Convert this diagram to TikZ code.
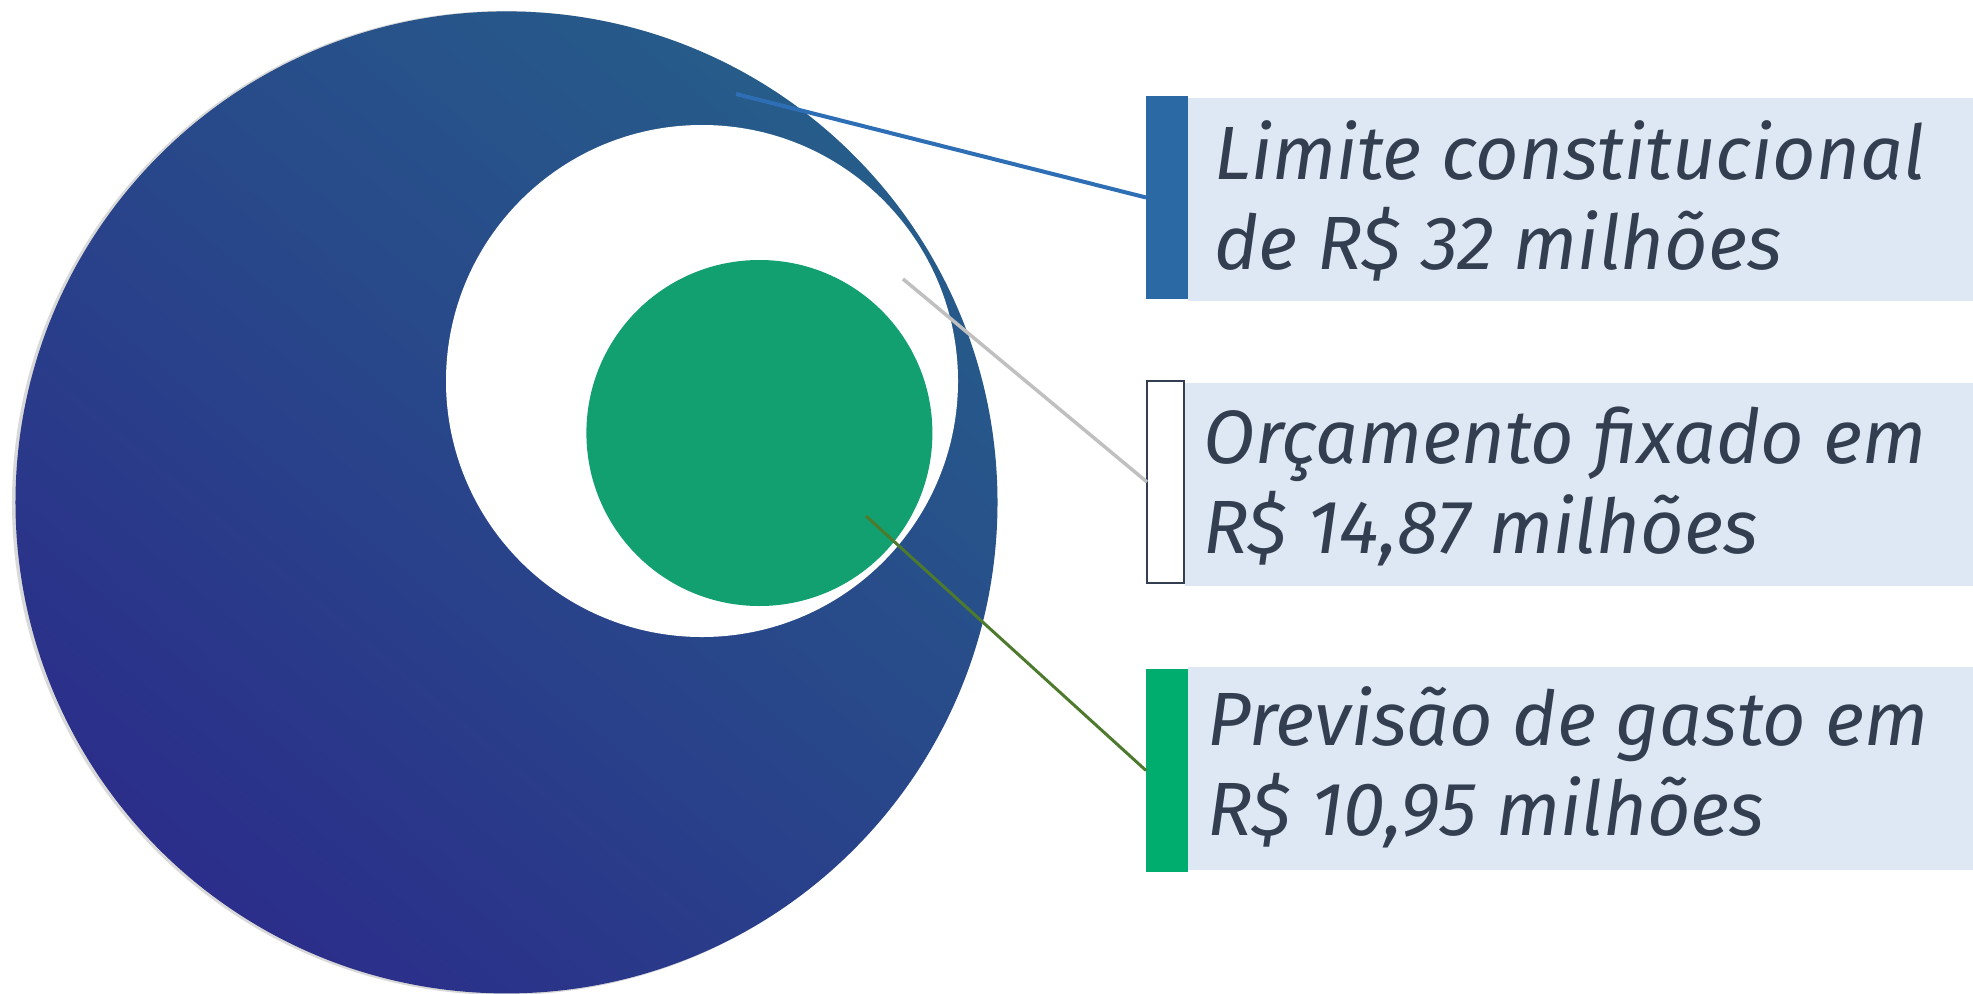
\documentclass[tikz,border=0pt]{standalone}
\usepackage{fontspec}
\setmainfont{Fira Sans}
\definecolor{bigtop}{HTML}{265C8A}
\definecolor{bigbot}{HTML}{2B2E8A}
\definecolor{greenc}{HTML}{13A070}
\definecolor{barblue}{HTML}{2B69A5}
\definecolor{bargreen}{HTML}{00AD6F}
\definecolor{labelbg}{HTML}{DEE8F4}
\definecolor{txt}{HTML}{333F50}
\definecolor{lineblue}{HTML}{2D6EB5}
\definecolor{linegray}{HTML}{C0C0C0}
\definecolor{linegreen}{HTML}{4E7A2E}
\begin{document}
\begin{tikzpicture}[x=1bp,y=-1bp,
  disc/.style={circle, inner sep=0pt, outer sep=0pt, minimum size=#1},
  bar/.style={rectangle, inner sep=0pt, outer sep=0pt, minimum width=42bp, minimum height=203bp, anchor=north west},
  bg/.style={rectangle, inner sep=0pt, outer sep=0pt, fill=labelbg, minimum width=790bp, minimum height=203bp, anchor=north west},
  lbl/.style={anchor=base west, inner sep=0pt, align=left, text=txt, font=\fontsize{75.5bp}{90bp}\selectfont\itshape},
  conn/.style={line width=#1, line cap=butt}]
\useasboundingbox (0,0) rectangle (1973,993);
% big circle with faint shadow
\node[disc=984bp, fill=black!15] (shadow) at (504,503) {};
\node[disc=982bp, top color=bigtop, bottom color=bigbot, shading angle=-40] (big) at (506.5,502.4) {};
\node[disc=512bp, fill=white] (mid) at (702,381) {};
\node[disc=346bp, fill=greenc] (small) at (759.4,433) {};
% label boxes
\node[bg] (bg1) at (1188,98) {};
\node[bar, fill=barblue] (bar1) at (1146,96) {};
\node[bg] (bg2) at (1185,383) {};
\node[bar, fill=white, draw=txt, line width=2.2bp, minimum width=37bp, minimum height=202bp] (bar2) at (1147,381) {};
\node[bg] (bg3) at (1188,667) {};
\node[bar, fill=bargreen] (bar3) at (1146,669) {};
% texts (anchored at the baseline of the last line)
\node[lbl] (t1) at (1214,269) {Limite constitucional\\de R\$ 32 milhões};
\node[lbl] (t2) at (1203,553) {Orçamento fixado em\\R\$ 14,87 milhões};
\node[lbl] (t3) at (1207,835) {Previsão de gasto em\\R\$ 10,95 milhões};
% connectors
\coordinate (p1) at (736,94);
\coordinate (p2) at (903,279);
\coordinate (p3) at (866,516);
\draw[conn=4bp, lineblue] (p1) -- (bar1.west);
\draw[conn=3.5bp, linegray] (p2) -- (bar2.west);
\draw[conn=3bp, linegreen] (p3) -- (bar3.west);
\end{tikzpicture}
\end{document}
